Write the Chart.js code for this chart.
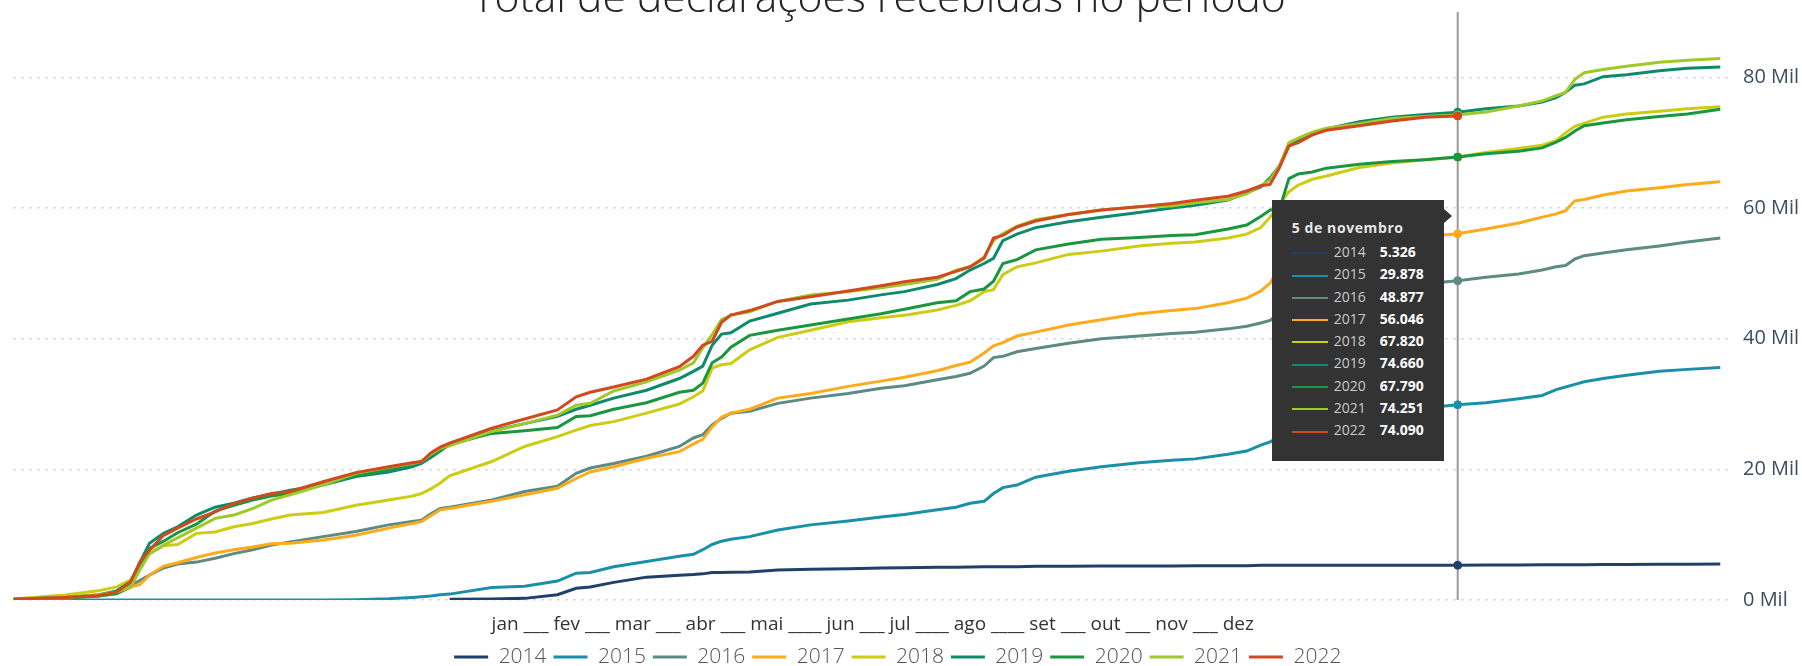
<!DOCTYPE html>
<html>
<head>
<meta charset="utf-8">
<script src="https://cdn.jsdelivr.net/npm/chart.js@4.4.1/dist/chart.umd.min.js"></script>
<style>
  html, body { margin: 0; padding: 0; background: #ffffff; overflow: hidden; }
  #wrap { position: relative; width: 1802px; height: 666px; }
  #c { display: block; }
  #tt { position: absolute; top: 200px; width: 172px; height: 261px; background: #333333;
        box-sizing: border-box; padding: 18px 0 0 20px; font-family: 'Open Sans', sans-serif; }
  #tt .caret { position: absolute; right: -8px; top: 9px; width: 0; height: 0;
        border-left: 8px solid #333333; border-top: 7px solid transparent; border-bottom: 7px solid transparent; }
  #tt .ttl { font-weight: 700; font-size: 14px; color: #e6e6e6; letter-spacing: 0.6px; height: 20px; line-height: 20px; margin-bottom: 3px; }
  #tt .row { height: 22.3px; line-height: 22.3px; white-space: nowrap; font-size: 14px; }
  #tt .sw { display: inline-block; width: 36px; height: 2px; vertical-align: middle; margin-right: 6px; }
  #tt .yr { display: inline-block; width: 46px; color: #c9c9c9; }
  #tt .val { font-weight: 700; color: #ffffff; }
</style>
</head>
<body>
<div id="wrap">
  <canvas id="c" width="1802" height="666"></canvas>
  <div id="tt"></div>
</div>
<script>
// ---------------- data ----------------
const chartTitle = 'Total de declarações recebidas no período';
const xAxisTitle = 'jan ___ fev ___ mar ___ abr ___ mai ____ jun ___ jul ____ ago ____ set ___ out ___ nov ___ dez';
const tooltipTitle = '5 de novembro';
const hoverDay = 309;

const years = ['2014', '2015', '2016', '2017', '2018', '2019', '2020', '2021', '2022'];
const colors = ['#203F6A', '#1A90A8', '#5D8B84', '#FDAB1A', '#CCCC14', '#0E8A6B', '#1A9641', '#A0C828', '#D1491F'];
const yTicks = [0, 20000, 40000, 60000, 80000];

// day of year
const days = [1,12,19,23,26,28,30,33,36,40,
  44,48,52,56,60,67,74,81,86,88,
  90,92,94,103,110,117,121,124,129,136,
  143,146,148,150,152,154,158,164,171,179,
  186,191,198,202,205,208,210,212,215,219,
  226,233,241,248,253,260,264,267,269,271,
  273,275,278,281,288,295,302,309,315,322,
  327,330,332,334,336,340,345,352,358,365];

// values in thousands
const s2014 = [null,null,null,null,null,null,null,null,null,null,
  null,null,null,null,null,null,null,null,null,null,
  null,null,0.1,0.15,0.25,0.8,1.8,2.0,2.7,3.5,
  3.8,3.9,4.0,4.2,4.2,4.25,4.3,4.6,4.7,4.8,
  4.9,4.95,5.0,5.0,5.05,5.1,5.1,5.1,5.1,5.15,
  5.15,5.2,5.2,5.2,5.25,5.25,5.25,5.3,5.3,5.3,
  5.3,5.3,5.3,5.31,5.31,5.32,5.32,5.326,5.34,5.36,
  5.38,5.4,5.4,5.4,5.41,5.42,5.44,5.46,5.48,5.5];
const s2015 = [0,0,0,0,0,0,0,0,0,0,
  0,0,0,0,0,0,0.05,0.2,0.4,0.5,
  0.6,0.8,0.9,1.9,2.1,2.9,4.1,4.2,5.1,5.9,
  6.7,7.0,7.7,8.5,9.0,9.3,9.7,10.7,11.5,12.1,
  12.7,13.1,13.8,14.2,14.8,15.1,16.3,17.2,17.6,18.8,
  19.7,20.4,21.0,21.4,21.6,22.3,22.8,23.7,24.2,25.0,
  26.5,27.3,27.8,28.1,28.6,29.0,29.4,29.878,30.2,30.8,
  31.3,32.2,32.6,33.0,33.4,33.9,34.4,35.0,35.3,35.6];
const s2016 = [0.1,0.3,0.6,1.0,2.2,3.0,3.8,4.9,5.5,5.8,
  6.4,7.1,7.7,8.4,8.9,9.7,10.5,11.5,12.0,12.2,
  13.2,14.0,14.2,15.3,16.6,17.4,19.4,20.2,20.9,22.0,
  23.5,24.8,25.3,26.8,27.8,28.6,28.9,30.1,30.9,31.6,
  32.4,32.8,33.7,34.2,34.7,35.8,37.1,37.3,38.0,38.5,
  39.3,40.0,40.4,40.8,41.0,41.5,41.9,42.4,42.8,44.0,
  45.5,46.2,46.7,47.0,47.6,48.0,48.4,48.877,49.4,49.9,
  50.5,51.0,51.2,52.2,52.7,53.1,53.6,54.2,54.8,55.4];
const s2017 = [0.1,0.3,0.6,1.0,2.0,2.4,3.8,5.2,5.7,6.5,
  7.2,7.7,8.1,8.6,8.7,9.2,9.9,11.0,11.7,12.0,
  12.9,13.8,14.0,15.1,16.1,17.1,18.6,19.6,20.4,21.7,
  22.7,23.9,24.6,26.5,28.0,28.6,29.2,30.9,31.6,32.7,
  33.5,34.1,35.1,35.9,36.4,37.8,38.9,39.4,40.4,41.0,
  42.1,42.9,43.8,44.3,44.6,45.5,46.2,47.3,48.5,51.0,
  52.5,53.2,53.7,54.1,54.7,55.2,55.6,56.046,56.8,57.7,
  58.6,59.1,59.6,61.1,61.3,62.0,62.6,63.1,63.6,64.0];
const s2018 = [0.15,0.76,1.4,2.0,3.1,5.1,7.1,8.3,8.5,10.2,
  10.4,11.2,11.7,12.4,13.0,13.4,14.5,15.3,15.9,16.3,
  17.0,17.9,19.0,21.2,23.5,25.0,26.0,26.7,27.3,28.6,
  30.0,31.1,32.0,35.5,36.0,36.2,38.3,40.2,41.3,42.6,
  43.2,43.6,44.4,45.1,45.8,47.2,47.5,49.8,51.0,51.6,
  52.9,53.4,54.2,54.6,54.8,55.4,56.0,57.0,58.6,60.5,
  62.5,63.5,64.4,64.9,66.2,66.9,67.4,67.820,68.5,69.1,
  69.6,70.3,71.5,72.5,73.0,73.9,74.4,74.8,75.2,75.5];
const s2019 = [0.1,0.4,0.76,1.4,2.8,5.8,8.7,10.2,11.2,13.0,
  14.2,14.8,15.6,16.2,16.8,17.6,18.9,19.6,20.4,20.9,
  21.8,22.8,23.8,25.9,27.0,28.1,29.2,29.8,30.9,32.1,
  33.9,35.0,35.8,39.0,40.7,40.9,42.7,43.9,45.3,45.9,
  46.7,47.2,48.3,49.2,50.5,51.5,52.3,55.0,56.0,57.0,
  57.9,58.6,59.3,60.0,60.4,61.2,62.3,63.2,64.6,66.5,
  69.5,70.4,71.2,72.1,73.2,73.9,74.3,74.660,75.2,75.6,
  76.2,76.9,77.7,78.8,79.0,80.1,80.4,81.0,81.4,81.6];
const s2020 = [0.1,0.3,0.6,1.0,2.0,5.1,7.9,9.0,10.3,11.6,
  13.6,14.5,15.3,15.9,16.3,17.9,19.0,20.0,20.8,21.2,
  22.2,23.0,23.8,25.5,25.9,26.4,28.1,28.2,29.2,30.2,
  31.8,32.1,33.2,36.3,37.2,38.7,40.5,41.3,42.1,43.0,
  43.8,44.5,45.5,45.8,47.2,47.6,48.8,51.5,52.1,53.6,
  54.5,55.2,55.5,55.8,55.9,56.8,57.4,58.7,59.7,59.8,
  64.5,65.2,65.5,66.1,66.7,67.1,67.4,67.790,68.3,68.7,
  69.2,70.1,70.8,71.8,72.6,73.0,73.5,74.0,74.4,75.1];
const s2021 = [0.1,0.4,0.8,1.2,2.0,4.7,7.1,8.4,9.5,11.0,
  12.5,13.0,14.0,15.3,16.1,17.6,19.4,20.3,20.9,21.2,
  22.3,23.2,23.6,25.8,27.0,28.3,29.8,30.1,32.0,33.4,
  35.2,36.3,38.6,40.6,42.9,43.6,44.1,45.7,46.7,47.2,
  47.8,48.3,49.1,50.5,51.0,52.5,55.0,56.1,57.2,58.2,
  59.0,59.7,60.2,60.3,60.8,61.3,62.2,63.4,64.3,66.5,
  70.0,70.7,71.6,72.2,72.9,73.7,74.0,74.251,74.7,75.6,
  76.4,77.2,77.7,79.7,80.7,81.2,81.7,82.3,82.6,82.9];
const s2022 = [0.1,0.4,0.7,1.2,2.8,5.9,7.6,9.9,11.0,12.4,
  13.5,14.8,15.6,16.3,16.6,18.1,19.5,20.4,21.0,21.2,
  22.5,23.4,24.0,26.3,27.7,29.1,31.1,31.8,32.6,33.8,
  35.7,37.3,39.0,39.6,42.5,43.6,44.3,45.7,46.4,47.3,
  48.1,48.7,49.4,50.3,51.0,52.3,55.4,55.8,57.1,58.0,
  59.0,59.7,60.2,60.7,61.2,61.8,62.6,63.4,63.6,66.2,
  69.5,70.0,71.2,71.9,72.6,73.3,73.9,74.090,null,null,
  null,null,null,null,null,null,null,null,null,null];

const seriesValues = [s2014, s2015, s2016, s2017, s2018, s2019, s2020, s2021, s2022];

// ---------------- helpers ----------------
function fmtPt(v) {
  const n = Math.round(v);
  return String(n).replace(/\B(?=(\d{3})+(?!\d))/g, '.');
}
const OPEN = "'Open Sans', 'Noto Sans', sans-serif";
function fitSize(text, weight, family, target, base) {
  const c = document.createElement('canvas').getContext('2d');
  c.font = weight + ' ' + base + 'px ' + family;
  return base * target / c.measureText(text).width;
}
const titleSize = fitSize(chartTitle, 300, OPEN, 814, 36);
const xTitleSize = fitSize(xAxisTitle, 400, OPEN, 763, 20);

const datasets = seriesValues.map((vals, i) => ({
  label: years[i],
  data: days.map((d, j) => ({ x: d, y: vals[j] == null ? null : vals[j] * 1000 })),
  borderColor: colors[i],
  backgroundColor: colors[i],
  pointBackgroundColor: colors[i],
  pointBorderColor: colors[i],
  pointHoverBackgroundColor: colors[i],
  pointHoverBorderColor: colors[i],
  borderWidth: 3,
  pointRadius: 0,
  pointHoverRadius: 4,
  pointHoverBorderWidth: 1,
  tension: 0,
  spanGaps: false,
  fill: false,
  order: seriesValues.length - 1 - i
}));

const topTitle = {
  id: 'topTitle',
  afterDraw(chart) {
    const ctx = chart.ctx;
    ctx.save();
    ctx.font = '300 ' + titleSize + 'px ' + OPEN;
    ctx.fillStyle = '#252423';
    ctx.textAlign = 'center';
    ctx.textBaseline = 'alphabetic';
    ctx.fillText(chartTitle, 879, 12);
    ctx.restore();
  }
};

const hoverLine = {
  id: 'hoverLine',
  beforeDatasetsDraw(chart) {
    const ctx = chart.ctx;
    const x = chart.scales.x.getPixelForValue(hoverDay);
    const { top, bottom } = chart.chartArea;
    ctx.save();
    ctx.strokeStyle = '#9a9a9a';
    ctx.lineWidth = 2;
    ctx.beginPath();
    ctx.moveTo(x, top);
    ctx.lineTo(x, bottom);
    ctx.stroke();
    ctx.restore();
  }
};

// nudge the legend block a little to the left, as in the original
const legendShift = {
  id: 'legendShift',
  afterLayout(chart) {
    if (chart.legend) { chart.legend.left -= 20; chart.legend.right -= 0; }
  }
};

const chart = new Chart(document.getElementById('c'), {
  type: 'line',
  data: { datasets },
  plugins: [topTitle, hoverLine, legendShift],
  options: {
    responsive: false,
    animation: false,
    devicePixelRatio: 1,
    events: [],
    layout: { padding: { left: 13.5, right: 0, top: 12, bottom: -11.5 } },
    interaction: { mode: 'index', intersect: false },
    scales: {
      x: {
        type: 'linear',
        min: 1,
        max: 367.5,
        ticks: { display: false },
        grid: { display: false, drawTicks: false },
        border: { display: false },
        title: {
          display: true,
          text: xAxisTitle,
          color: '#333333',
          font: { family: OPEN, size: xTitleSize },
          padding: { top: 0, bottom: 3.6 }
        },
        afterFit(scale) { scale.height = 39.6; }
      },
      y: {
        position: 'right',
        min: 0,
        max: 90000,
        afterBuildTicks(scale) { scale.ticks = yTicks.map(v => ({ value: v })); },
        ticks: {
          padding: 0,
          color: '#3E4C61',
          font: { family: OPEN, size: 20 },
          callback: (v) => (v / 1000) + ' Mil'
        },
        grid: { color: '#c8c8c8', lineWidth: 1.5, drawTicks: true, tickLength: 11, tickColor: 'rgba(0,0,0,0)' },
        border: { display: false, dash: [2, 6] },
        afterFit(scale) { scale.width = 70; }
      }
    },
    plugins: {
      legend: {
        display: true,
        position: 'bottom',
        align: 'center',
        labels: {
          usePointStyle: true,
          pointStyle: 'line',
          pointStyleWidth: 34,
          color: '#555555',
          padding: 6.9,
          font: { family: OPEN, size: 21, weight: 300 },
          sort: (a, b) => a.datasetIndex - b.datasetIndex
        }
      },
      tooltip: { enabled: false },
      title: { display: false }
    }
  }
});

// active hover state at the chosen day
const idx = days.indexOf(hoverDay);
const active = datasets.map((_, i) => ({ datasetIndex: i, index: idx }));
chart.setActiveElements(active);
chart.update('none');

// HTML tooltip built from the data
(function buildTooltip() {
  const tt = document.getElementById('tt');
  let html = '<div class="caret"></div><div class="ttl">' + tooltipTitle + '</div>';
  years.forEach((y, i) => {
    const v = seriesValues[i][idx];
    html += '<div class="row"><span class="sw" style="background:' + colors[i] + '"></span>' +
            '<span class="yr">' + y + '</span><span class="val">' + fmtPt(v * 1000) + '</span></div>';
  });
  tt.innerHTML = html;
  const xPix = chart.scales.x.getPixelForValue(hoverDay);
  tt.style.left = (xPix - 14 - 172) + 'px';
})();
</script>
</body>
</html>
